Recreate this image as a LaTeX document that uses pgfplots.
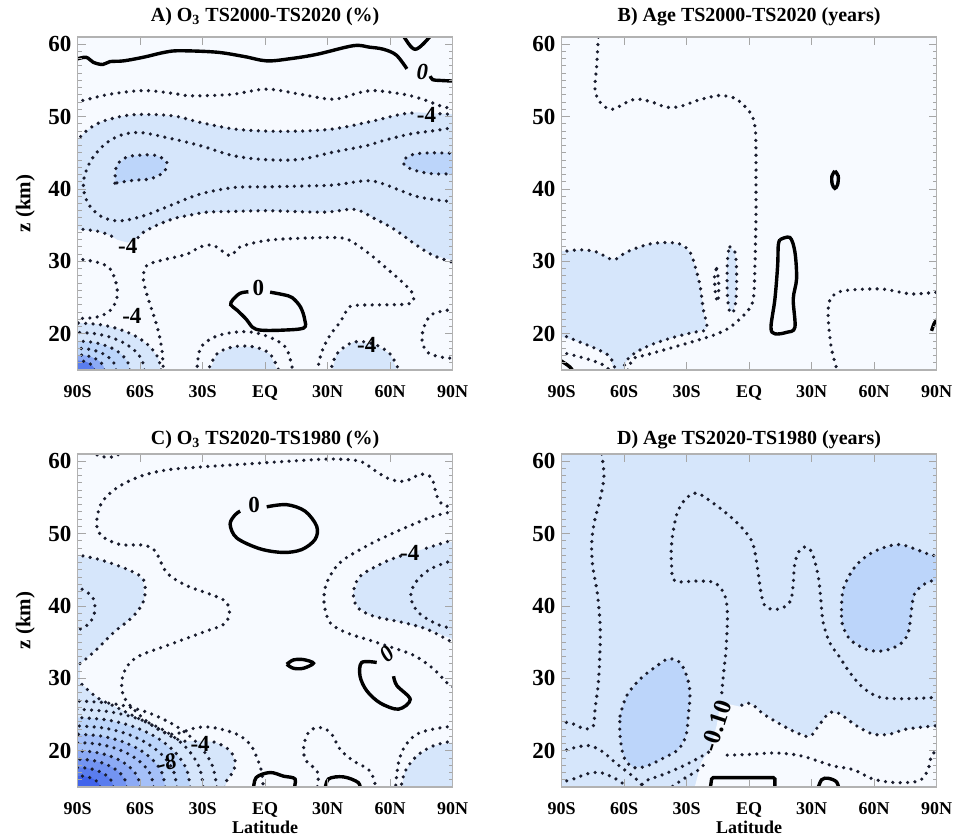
\documentclass[border=0pt]{standalone}
\usepackage{fontspec}
\setmainfont{Liberation Serif}
\usepackage{pgfplots}
\pgfplotsset{compat=1.18}
\definecolor{bgpale}{RGB}{247,250,255}
\definecolor{lblue}{RGB}{214,230,251}
\definecolor{mblue}{RGB}{188,213,250}
\definecolor{cc3}{RGB}{165,192,248}
\definecolor{cc4}{RGB}{140,170,245}
\definecolor{cc5}{RGB}{115,148,242}
\definecolor{cc6}{RGB}{90,125,238}
\definecolor{cc7}{RGB}{65,100,235}
\definecolor{dotc}{RGB}{25,28,45}
\tikzset{cl/.style={font=\fontsize{11.5}{12}\selectfont\bfseries, inner sep=0pt}}
\pgfplotsset{
  dl/.style={smooth, tension=0.55, line width=1.8pt, dash pattern=on 0pt off 3.7pt, line cap=round, draw=dotc, mark=none},
  sl/.style={smooth, tension=0.55, line width=1.7pt, draw=black, mark=none},
  fl/.style={draw=none, mark=none, fill=#1},
  panel/.style={
    scale only axis, width=187.4pt, height=166.5pt, anchor=south west,
    xmin=-90, xmax=90, ymin=15, ymax=61,
    xtick={-90,-60,-30,0,30,60,90}, xticklabels={90S,60S,30S,EQ,30N,60N,90N},
    ytick={20,30,40,50,60}, minor ytick={15,...,61},
    tick align=inside, major tick length=4pt, minor tick length=2pt,
    tick style={gray!70, line width=0.5pt},
    axis line style={draw=gray!60, line width=0.7pt},
    xticklabel style={font=\fontsize{9}{10}\selectfont\bfseries, anchor=base, inner sep=0pt, yshift=-14pt},
    yticklabel style={font=\fontsize{11.5}{12}\selectfont\bfseries, anchor=east, inner sep=0pt, xshift=-3pt},
    /pgf/number format/assume math mode=true,
    title style={font=\fontsize{10}{11}\selectfont\bfseries, at={(0.5,1)}, anchor=base, inner sep=0pt},
    ylabel style={font=\fontsize{10.5}{12}\selectfont\bfseries, at={(axis description cs:-0.14,0.5)}, anchor=center},
    xlabel style={font=\fontsize{9}{10}\selectfont\bfseries, at={(axis description cs:0.5,-0.12)}, anchor=center},
    axis on top,
  },
}
\begin{document}
\begin{tikzpicture}
\path[use as bounding box] (0,0) rectangle (477.5pt,417.5pt);

%%%%%%%%%%%%%%%%%%%% A
\begin{axis}[panel, at={(38.85pt,232.5pt)}, axis background/.style={fill=bgpale},
  title={A) O\textsubscript{3} TS2000-TS2020 (\%)}, title style={yshift=1.5pt}, ylabel={z (km)}]
\addplot[fl=lblue] coordinates {(-95,46.7)(-90,46.9)(-85.7,48.05)(-79.3,49.2)(-69.7,50.0)(-60.1,50.3)(-44,50.1)(-31.2,49.2)(-15.2,48.3)(0.8,48.0)(16.8,48.0)(32.8,48.3)(48.8,49.2)(64.9,50.3)(72.9,50.6)(84,50.4)(95,50.3)(95,29.8)(80.9,30.8)(72.9,32.2)(61.7,34.5)(52,36.0)(45.6,37.0)(40.8,37.2)(32.8,36.9)(24.8,36.8)(0.8,37.0)(-15.2,36.9)(-28,36.8)(-37.6,36.3)(-44,35.9)(-52,35.0)(-58.5,34.0)(-61,33.3)(-66,32.6)(-71,33.0)(-74.5,33.6)(-80.9,34.2)(-95,34.5)};
\addplot[fl=mblue] coordinates {(-72.1,40.8)(-71.3,43.2)(-66.5,44.4)(-58.5,44.7)(-52,44.6)(-47.2,43.7)(-48.8,42.3)(-55.3,41.4)(-63.3,41.2)};
\addplot[fl=mblue] coordinates {(66.5,44.0)(71.3,44.8)(80.9,45.0)(95,44.9)(95,42.1)(80.9,42.1)(72.9,42.5)(67.3,43.2)};
\addplot[fl=lblue] coordinates {(-28,14)(-23.2,17.2)(-15.2,18.2)(-5.6,18.2)(2.4,17.2)(7.2,14)};
\addplot[fl=lblue] coordinates {(31.2,14)(34.4,17.2)(42.4,18.85)(52,18.6)(60.1,17.2)(64.9,14)};
\addplot[fl=lblue] coordinates {(-50,14)(-50,15)(-51.4,16.68)(-55.4,18.25)(-61.7,19.60)(-70,20.63)(-79.6,21.28)(-90,21.5)(-95,21.5)(-95,14)};
\addplot[fl=mblue] coordinates {(-65,14)(-65,15)(-65.9,16.04)(-68.4,17)(-72.3,17.83)(-77.5,18.46)(-83.5,18.86)(-90,19)(-95,19)(-95,14)};
\addplot[fl=cc4] coordinates {(-77.2,14)(-77.2,15)(-77.6,15.54)(-78.9,16.05)(-80.9,16.48)(-83.6,16.82)(-86.7,17.03)(-90,17.1)(-95,17.1)(-95,14)};
\addplot[fl=cc6] coordinates {(-82,14)(-82,15)(-82.3,15.34)(-83.1,15.65)(-84.3,15.92)(-86,16.13)(-87.9,16.26)(-90,16.3)(-95,16.3)(-95,14)};
\addplot[sl] coordinates {(-91,57.9)(-86,58.2)(-82.5,57.5)(-78,57.2)(-74.5,57.6)(-68,57.7)(-58.5,58.2)(-48,58.9)(-40.8,59.1)(-23.2,58.9)(-10,58.3)(0.8,57.7)(12,58.0)(24.8,58.6)(42.4,59.8)(50,59.6)(56.9,59.3)(63,58.5)(68.1,56.6)};
\addplot[sl] coordinates {(79.3,55.6)(80.5,55.1)(84,55.0)(91,54.9)};
\addplot[sl] coordinates {(65,62)(66.5,61.1)(72.1,59.3)(79.3,61.1)(80.5,62)};
\addplot[sl] coordinates {(2.4,25.75)(8.8,25.4)(13,25.0)(17,23.7)(19,22)(18.5,20.8)(8,20.5)(-2,20.5)(-6,20.9)(-9,22.0)(-13.6,23.3)(-16.5,24.0)(-15.5,24.7)(-12,25.6)(-8,25.8)};
\addplot[dl] coordinates {(-91,52)(-85,52.4)(-74.5,53.1)(-58.5,53.6)(-44,53.2)(-37.6,52.9)(-28,52.9)(-15.2,53.1)(0.8,53.8)(16.8,53.1)(32.8,52.4)(45,53.3)(52,53.6)(61.7,53.3)(69.7,52.9)(77.7,52.2)(84,51.5)(91,51.0)};
\addplot[dl] coordinates {(-91,46.5)(-85.7,48.05)(-79.3,49.2)(-69.7,50.0)(-60.1,50.3)(-44,50.1)(-31.2,49.2)(-15.2,48.3)(0.8,48.0)(16.8,48.0)(32.8,48.3)(48.8,49.2)(64.9,50.3)(71,50.5)};
\addplot[dl] coordinates {(84,50.4)(91,50.3)};
\addplot[dl] coordinates {(91,48.5)(80.9,48.05)(69.7,47.6)(56.9,46.7)(48.8,46.0)(32.8,45.1)(16.8,44.1)(0.8,44.05)(-15.2,44.6)(-31.2,46.0)(-47.2,47.1)(-60.1,47.8)(-69.7,47.4)(-77.7,46.0)(-84.1,43.7)(-87.3,40.9)(-85.4,38.2)(-79.3,36.3)(-71.3,35.6)(-63.3,35.9)(-55.3,36.6)(-44,37.9)(-31.2,39.3)(-15.2,40.2)(0.8,40.3)(16.8,40.4)(32.8,40.55)(48.8,41.15)(56.9,40.7)(64.9,39.8)(74.5,38.85)(91,38.2)};
\addplot[dl] coordinates {(-72.1,40.8)(-71.3,43.2)(-66.5,44.4)(-58.5,44.7)(-52,44.6)(-47.2,43.7)(-48.8,42.3)(-55.3,41.4)(-63.3,41.2)(-72.1,40.8)};
\addplot[dl] coordinates {(92,44.9)(80.9,45.0)(71.3,44.8)(66.5,44.0)(67.3,43.2)(72.9,42.5)(80.9,42.1)(92,42.1)};
\addplot[dl] coordinates {(-91,34.5)(-80.9,34.2)(-74.5,33.6)(-71,33.0)};
\addplot[dl] coordinates {(-61,33.3)(-58.5,34.0)(-52,35.0)(-44,35.9)(-37.6,36.3)(-28,36.8)(-15.2,36.9)(0.8,37.0)(24.8,36.8)(32.8,36.9)(40.8,37.2)(45.6,37.0)(52,36.0)(61.7,34.5)(72.9,32.2)(80.9,30.8)(91,29.8)};
\addplot[dl] coordinates {(-48.8,14.5)(-49.6,17.9)(-52,21.15)(-56.1,24.8)(-58.5,27.6)(-56.9,29.4)(-50.4,30.1)(-37.6,31.0)(-31.2,32.0)(-24.8,32.2)(-16.8,30.8)(-12,32.0)(0.8,32.9)(16.8,33.2)(32.8,33.3)(39.2,33.1)(45.6,32.0)(52,30.6)(58.5,29.0)(64.9,27.4)(70.5,25.75)(71.3,24.6)(68.1,24.1)(56.9,24.0)(42.4,23.9)(39.2,23.2)(36,21.6)(31.2,19.8)(27.2,17.5)(24.8,14.5)};
\addplot[dl] coordinates {(-91,30.4)(-80.9,29.9)(-74.5,29.0)(-71.3,26.7)(-71.3,24.8)(-74.5,23.2)(-80.9,22.3)(-91,22.1)};
\addplot[dl] coordinates {(91,23.4)(80.9,22.8)(76.9,21.4)(75.3,19.3)(77.7,17.5)(84.1,16.8)(91,16.6)};
\addplot[dl] coordinates {(-32.8,14.5)(-31.2,17.9)(-24.8,19.5)(-15.2,20.2)(-5.6,20.2)(4,19.3)(10.4,17.9)(13.6,14.5)};
\addplot[dl] coordinates {(-28,14.5)(-23.2,17.2)(-15.2,18.2)(-5.6,18.2)(2.4,17.2)(7.2,14.5)};
\addplot[dl] coordinates {(31.2,14.5)(34.4,17.2)(42.4,18.85)(52,18.6)(60.1,17.2)(64.9,14.5)};
\addplot[dl] coordinates {(-50,15)(-51.4,16.68)(-55.4,18.25)(-61.7,19.60)(-70,20.63)(-79.6,21.28)(-91,21.5)};
\addplot[dl] coordinates {(-58,15)(-59.1,16.35)(-62.3,17.6)(-67.4,18.68)(-74,19.5)(-81.7,20.02)(-91,20.2)};
\addplot[dl] coordinates {(-65,15)(-65.9,16.04)(-68.4,17)(-72.3,17.83)(-77.5,18.46)(-83.5,18.86)(-91,19)};
\addplot[dl] coordinates {(-71.6,15)(-72.2,15.78)(-74.1,16.5)(-77,17.12)(-80.8,17.6)(-85.2,17.9)(-91,18)};
\addplot[dl] coordinates {(-77.2,15)(-77.6,15.54)(-78.9,16.05)(-80.9,16.48)(-83.6,16.82)(-86.7,17.03)(-91,17.1)};
\addplot[dl] coordinates {(-82,15)(-82.3,15.34)(-83.1,15.65)(-84.3,15.92)(-86,16.13)(-87.9,16.26)(-91,16.3)};
\node[cl, font=\fontsize{11.5}{12}\selectfont\bfseries\itshape] at (axis cs:75.5,56.2) {0};
\node[cl] at (axis cs:77.5,50.2) {-4};
\node[cl] at (axis cs:-66,32.1) {-4};
\node[cl] at (axis cs:-3.2,26.4) {0};
\node[cl] at (axis cs:-64,22.5) {-4};
\node[cl] at (axis cs:48.8,18.4) {-4};
\end{axis}

%%%%%%%%%%%%%%%%%%%% B
\begin{axis}[panel, at={(280.85pt,232.5pt)}, axis background/.style={fill=bgpale},
  title={B) Age TS2000-TS2020 (years)}, title style={yshift=1.5pt}]
\addplot[fl=lblue] coordinates {(-95,31.3)(-81.2,31.6)(-73.2,31.3)(-65.2,30.25)(-58.8,31.3)(-49.2,32.3)(-41.2,32.6)(-33.2,32.4)(-28.4,31.3)(-26,29.4)(-23.6,26.7)(-22,23.4)(-20.4,20.7)(-26.8,20.2)(-36.4,19.5)(-46,18.6)(-54,17.5)(-58.8,16.3)(-61.2,14)(-63.6,14)(-66.8,16.8)(-73.2,17.9)(-81.2,18.85)(-95,20)};
\addplot[fl=lblue] coordinates {(-9.2,32.0)(-6.8,31.3)(-6,28.5)(-6.3,24.8)(-7.6,23.0)(-9.5,23.2)(-10.5,25.75)(-10.5,29.4)(-10,31.3)};
\addplot[dl] coordinates {(-72.4,62)(-72.4,61.1)(-73.2,57.0)(-74,53.8)(-71.6,52.0)(-66,51.0)(-57.2,52.2)(-52.4,52.4)(-46,51.95)(-39.6,51.3)(-33.2,51.4)(-25.2,52.2)(-17.2,52.8)(-12.4,52.9)(-6,52.4)(0.4,50.6)(2.8,48.7)(3.3,45.5)(3.3,40.9)(3.3,36.3)(2.8,29.4)(2,24.8)(-1.2,23.0)(-9.2,20.9)(-17.2,19.8)(-33.2,18.4)(-49.2,17.1)(-55.6,16.55)(-58.8,14.5)};
\addplot[dl] coordinates {(-91,31.3)(-81.2,31.6)(-73.2,31.3)(-65.2,30.25)(-58.8,31.3)(-49.2,32.3)(-41.2,32.6)(-33.2,32.4)(-28.4,31.3)(-26,29.4)(-23.6,26.7)(-22,23.4)(-20.4,20.7)(-26.8,20.2)(-36.4,19.5)(-46,18.6)(-54,17.5)(-58.8,16.3)(-61.2,14.5)};
\addplot[dl] coordinates {(-91,20)(-81.2,18.85)(-73.2,17.9)(-66.8,16.8)(-63.6,14.5)};
\addplot[dl] coordinates {(-91,17.5)(-81.2,16.8)(-73.2,16.1)(-68.4,15.4)(-66.5,14.5)};
\addplot[sl] coordinates {(-90.5,16.3)(-86,15.4)(-84,14.5)};
\addplot[dl] coordinates {(-15.6,29.0)(-14.6,27.1)(-15,24.4)(-16.2,25.7)(-16.6,28.1)(-15.6,29.0)};
\addplot[dl] coordinates {(-9.2,32.0)(-6.8,31.3)(-6,28.5)(-6.3,24.8)(-7.6,23.0)(-9.5,23.2)(-10.5,25.75)(-10.5,29.4)(-10,31.3)(-9.2,32.0)};
\addplot[sl] coordinates {(14.8,33.0)(19.6,33.3)(22,31.3)(22.8,27.6)(21.2,24.8)(22,20.9)(18,20.2)(12.4,20.0)(10.5,20.9)(12.4,24.8)(13.7,29.4)(14,32.2)(14.8,33.0)};
\addplot[sl] coordinates {(41.2,42.5)(42.8,41.8)(42.5,40.6)(41.2,40.1)(39.9,40.7)(39.8,41.8)(41.2,42.5)};
\addplot[dl] coordinates {(42.8,14.5)(39.6,17.9)(38,22.1)(38.5,24.4)(41.2,25.5)(46.8,26.0)(62.8,26.2)(72.4,25.75)(78.8,25.5)(91,25.75)};
\addplot[sl] coordinates {(87.6,20.4)(89,21.5)(90.5,22)};
\end{axis}

%%%%%%%%%%%%%%%%%%%% C
\begin{axis}[panel, at={(38.85pt,24pt)}, axis background/.style={fill=bgpale},
  title={C) O\textsubscript{3} TS2020-TS1980 (\%)}, title style={yshift=-1.5pt}, ylabel={z (km)}, xlabel={Latitude}]
\addplot[fl=lblue] coordinates {(-95,47.1)(-79.3,46.4)(-66.5,45.1)(-58.5,43.7)(-58.1,40.9)(-63.3,38.6)(-72.9,36.3)(-80.9,34.0)(-88.1,32.2)(-95,31.8)};
\addplot[fl=lblue] coordinates {(-95,33)(-88.8,33)(-88.8,28)(-95,28)};
\addplot[fl=lblue] coordinates {(-95,29.6)(-88.9,29.4)(-80.9,27.4)(-71.3,26.0)(-61.7,24.6)(-52,23.2)(-44,21.8)(-38,21.3)(-31,21.4)(-24.5,21.2)(-21.6,20.9)(-16.8,20.0)(-14.4,18.6)(-15.2,17.2)(-18.4,15.9)(-20,14)(-95,14)};
\addplot[fl=mblue] coordinates {(-36,14)(-36,15)(-37.8,17.49)(-43.2,19.8)(-51.8,21.79)(-63,23.31)(-76,24.27)(-90,24.6)(-95,24.6)(-95,14)};
\addplot[fl=cc3] coordinates {(-48,14)(-48,15)(-49.4,16.89)(-53.6,18.65)(-60.3,20.16)(-69,21.32)(-79.1,22.05)(-90,22.3)(-95,22.3)(-95,14)};
\addplot[fl=cc4] coordinates {(-60.1,14)(-60.1,15)(-61.1,16.3)(-64.1,17.5)(-68.9,18.54)(-75,19.33)(-82.3,19.83)(-90,20)(-95,20)(-95,14)};
\addplot[fl=cc5] coordinates {(-66.5,14)(-66.5,15)(-67.3,16)(-69.6,16.93)(-73.4,17.72)(-78.2,18.33)(-83.9,18.72)(-90,18.85)(-95,18.85)(-95,14)};
\addplot[fl=cc6] coordinates {(-72.9,14)(-72.9,15)(-73.5,15.7)(-75.2,16.35)(-77.9,16.91)(-81.4,17.34)(-85.6,17.61)(-90,17.7)(-95,17.7)(-95,14)};
\addplot[fl=cc7] coordinates {(-79.3,14)(-79.3,15)(-79.7,15.4)(-80.7,15.78)(-82.4,16.1)(-84.6,16.34)(-87.2,16.5)(-90,16.55)(-95,16.55)(-95,14)};
\addplot[fl=lblue] coordinates {(95,49.2)(80.9,48.3)(69.7,47.3)(56.9,46.0)(45.6,44.1)(42.4,41.8)(44.4,39.8)(52,38.6)(64.9,37.8)(77.7,36.8)(95,34.9)};
\addplot[fl=lblue] coordinates {(95,21.4)(80.9,20.7)(72.9,19.3)(67.3,17.2)(64.9,14)(95,14)};
\addplot[dl] coordinates {(91,53.8)(85.7,53.9)(82.5,55.2)(80.9,57.0)(79.3,57.9)(74.5,58.2)(69.7,57.5)(64.9,57.2)(58.5,57.7)(52,58.85)(45.6,60.0)(32.8,60.3)(16.8,60.1)(0.8,59.8)(-15.2,59.5)(-31.2,59.2)(-47.2,58.8)(-60.1,57.9)(-71.3,56.3)(-78.5,54.25)(-80.9,51.5)(-78.5,49.7)(-69.7,48.5)(-58.5,48.4)(-52.8,47.6)(-47.2,44.6)(-37.6,42.8)(-28,41.8)(-19.2,40.7)(-17.1,39.1)(-19.7,37.5)(-29.6,36.4)(-45.6,34.7)(-61.7,32.9)(-68.1,30.6)(-67.7,27.4)(-56.9,24.1)(-45.6,22.3)(-32.8,23.2)(-24.8,23.2)(-13.6,22.3)(-7.2,20.9)(-4,19.1)(-1.6,17.0)(-0.8,14.5)};
\addplot[dl] coordinates {(-82,61.8)(-80.9,60.9)(-77.7,60.6)(-71.3,60.7)(-69,61.8)};
\addplot[dl] coordinates {(91,53.1)(80.9,52.4)(72.9,51.5)(61.7,50.1)(48.8,48.3)(36,46.0)(29.6,43.2)(28.3,40.5)(31.2,37.7)(39.2,36.3)(48.8,35.4)(58.5,34.5)(71.3,33.2)(80.9,31.3)(87.3,29.4)(91,28.7)};
\addplot[dl] coordinates {(91,49.2)(80.9,48.3)(74.5,47.7)};
\addplot[dl] coordinates {(65,46.9)(56.9,46.0)(45.6,44.1)(42.4,41.8)(44.4,39.8)(52,38.6)(64.9,37.8)(77.7,36.8)(91,34.8)};
\addplot[dl] coordinates {(91,46.4)(79.3,45.1)(72.1,43.2)(70,41.15)(73.7,39.1)(82.5,37.5)(91,36.8)};
\addplot[dl] coordinates {(-91,47.1)(-79.3,46.4)(-66.5,45.1)(-58.5,43.7)(-58.1,40.9)(-63.3,38.6)(-72.9,36.3)(-80.9,34.0)(-88.1,32.2)(-91,31.8)};
\addplot[dl] coordinates {(-91,42.8)(-83.3,41.4)(-81.7,39.5)(-84.1,37.7)(-88.9,36.8)(-91,36.7)};
\addplot[dl] coordinates {(-91,29.6)(-88.9,29.4)(-80.9,27.4)(-71.3,26.0)(-61.7,24.6)(-52,23.2)(-44,21.8)(-38,21.3)};
\addplot[dl] coordinates {(-24.5,21.2)(-21.6,20.9)(-16.8,20.0)(-14.4,18.6)(-15.2,17.2)(-18.4,15.9)(-20,14.5)};
\addplot[dl] coordinates {(-23.2,15)(-25.5,18.08)(-32.2,20.95)(-42.8,23.41)(-56.6,25.31)(-72.7,26.50)(-91,26.9)};
\addplot[dl] coordinates {(-29.6,15)(-31.7,17.78)(-37.7,20.38)(-47.3,22.60)(-59.8,24.31)(-74.4,25.38)(-91,25.75)};
\addplot[dl] coordinates {(-36,15)(-37.8,17.49)(-43.2,19.8)(-51.8,21.79)(-63,23.31)(-76,24.27)(-91,24.6)};
\addplot[dl] coordinates {(-42.4,15)(-44,17.19)(-48.8,19.23)(-56.3,20.97)(-66.2,22.32)(-77.7,23.16)(-91,23.45)};
\addplot[dl] coordinates {(-48,15)(-49.4,16.89)(-53.6,18.65)(-60.3,20.16)(-69,21.32)(-79.1,22.05)(-91,22.3)};
\addplot[dl] coordinates {(-53.6,15)(-54.8,16.59)(-58.5,18.08)(-64.3,19.35)(-71.8,20.33)(-80.6,20.94)(-91,21.15)};
\addplot[dl] coordinates {(-60.1,15)(-61.1,16.3)(-64.1,17.5)(-68.9,18.54)(-75,19.33)(-82.3,19.83)(-91,20)};
\addplot[dl] coordinates {(-66.5,15)(-67.3,16)(-69.6,16.93)(-73.4,17.72)(-78.2,18.33)(-83.9,18.72)(-91,18.85)};
\addplot[dl] coordinates {(-72.9,15)(-73.5,15.7)(-75.2,16.35)(-77.9,16.91)(-81.4,17.34)(-85.6,17.61)(-91,17.7)};
\addplot[dl] coordinates {(-79.3,15)(-79.7,15.4)(-80.7,15.78)(-82.4,16.1)(-84.6,16.34)(-87.2,16.5)(-91,16.55)};
\addplot[dl] coordinates {(53.6,14.5)(50.4,17.2)(42.4,18.6)(36,20.2)(32,22.3)(27.2,23.2)(21.6,22.8)(18.7,20.9)(19.2,18.85)(24,17.5)(25.6,16.55)(24.8,14.5)};
\addplot[dl] coordinates {(91,23.45)(80.9,23.0)(72.9,22.3)(67.3,20.7)(64.1,18.4)(62.5,14.5)};
\addplot[dl] coordinates {(91,21.4)(80.9,20.7)(72.9,19.3)(67.3,17.2)(64.9,14.5)};
\addplot[sl] coordinates {(0.8,53.7)(10.4,54.0)(19.2,53.1)(24.8,51.0)(24,49.2)(17.6,47.8)(8.8,47.4)(-2.4,47.9)(-13.6,49.4)(-16.8,51.3)(-14.4,52.6)(-12,53.1)};
\addplot[sl] coordinates {(10.4,31.95)(13.6,32.55)(18.4,32.6)(23.2,32.1)(18.4,31.4)(13.6,31.4)(10.4,31.95)};
\addplot[sl] coordinates {(53.6,32.2)(46.4,32.2)(45.6,30.3)(48.8,28.3)(55.3,26.6)(64.1,25.75)(69.7,27.1)(63.3,29.0)(61.7,30.3)};
\addplot[sl] coordinates {(-5.6,14.5)(-4.3,16.3)(2.4,17.0)(8.8,16.5)(14.4,16.1)(13.6,14.5)};
\addplot[sl] coordinates {(28.8,14.5)(30.4,16.1)(37.6,16.4)(44.8,15.6)(45.6,14.5)};
\node[cl] at (axis cs:-5.3,54.0) {0};
\node[cl] at (axis cs:69.5,47.4) {-4};
\node[cl, font=\fontsize{11.5}{12}\selectfont\bfseries\itshape, rotate=40] at (axis cs:58.5,33.3) {0};
\node[cl] at (axis cs:-31.2,21.0) {-4};
\node[cl, font=\fontsize{11.5}{12}\selectfont\bfseries\itshape, rotate=15] at (axis cs:-47.2,18.3) {-8};
\end{axis}

%%%%%%%%%%%%%%%%%%%% D
\begin{axis}[panel, at={(280.85pt,24pt)}, axis background/.style={fill=lblue},
  title={D) Age TS2020-TS1980 (years)}, title style={yshift=-1.5pt}, xlabel={Latitude}]
\addplot[fl=bgpale] coordinates {(-13.7,26.7)(-4.5,26.1)(-1.2,26.6)(2,26.3)(6.8,25.1)(14.8,23.7)(22.8,22.5)(29.2,22.0)(34,23.7)(38.8,25.3)(43.6,25.1)(51.6,23.45)(59.6,22.3)(67.6,22.3)(75.6,23.0)(95,23.5)(95,14)(-27,14)(-23,18.4)(-18.8,20.2)(-15.6,23.45)};
\addplot[fl=mblue] coordinates {(-62,24.8)(-58.8,27.6)(-52.4,29.9)(-44.4,31.7)(-38.8,32.7)(-33.2,32.2)(-29.7,30.1)(-28.4,27.8)(-29.2,24.8)(-30.3,22.1)(-34,20.2)(-40.4,19.1)(-49.2,17.9)(-55.6,17.7)(-60.1,19.1)(-62,22.1)};
\addplot[fl=mblue] coordinates {(44.4,39.5)(45.2,42.3)(50,45.1)(56.4,46.9)(64.4,48.05)(72.4,48.5)(80.4,47.8)(86.8,47.1)(95,46.9)(95,43.7)(85.2,43.2)(79.6,41.8)(78,39.5)(76.4,36.3)(72.4,34.7)(64.4,33.8)(56.4,34.0)(48.4,35.4)(44.8,37.5)};
\addplot[dl] coordinates {(-70.8,62)(-70.8,61.1)(-69.7,57.9)(-71.6,54.7)(-74.4,51.5)(-75.6,48.7)(-75.1,45.5)(-72.9,41.8)(-71.6,37.7)(-71.6,34.0)(-72.4,29.4)(-74,25.75)(-74.8,23.45)(-78.8,23.0)(-84.4,23.7)(-91,24.1)};
\addplot[dl] coordinates {(-62,24.8)(-58.8,27.6)(-52.4,29.9)(-44.4,31.7)(-38.8,32.7)(-33.2,32.2)(-29.7,30.1)(-28.4,27.8)(-29.2,24.8)(-30.3,22.1)(-34,20.2)(-40.4,19.1)(-49.2,17.9)(-55.6,17.7)(-60.1,19.1)(-62,22.1)(-62,24.8)};
\addplot[dl] coordinates {(91,27.4)(75.6,27.2)(62.8,27.4)(54.8,28.7)(48.4,30.8)(43.6,32.9)(38.8,34.9)(35.6,37.7)(34.3,41.4)(33.2,44.1)(30.8,46.9)(28.4,48.05)(24.8,47.9)(22,46.0)(21.2,43.2)(19.9,40.7)(14.8,39.6)(8.4,39.8)(6,41.4)(3.9,45.5)(1.7,48.7)(-2.8,50.6)(-9.2,52.4)(-17.2,54.2)(-25.2,55.6)(-30.8,54.7)(-34.8,52.6)(-37.2,48.7)(-37.2,45.5)(-35.6,43.45)(-25.2,43.45)(-16.4,43.2)(-11.6,41.4)(-10.4,38.6)(-11.1,34.0)(-12.4,30.3)(-13.2,27.8)};
\addplot[dl] coordinates {(-19.5,19.8)(-25.2,18.85)(-33.2,17.7)(-42.8,16.55)(-49.2,15.9)(-54,14.5)};
\addplot[dl] coordinates {(-3.5,26.3)(-1.2,26.6)(2,26.3)(6.8,25.1)(14.8,23.7)(22.8,22.5)(29.2,22.0)(34,23.7)(38.8,25.3)(43.6,25.1)(51.6,23.45)(59.6,22.3)(67.6,22.3)(75.6,23.0)(91,23.5)};
\addplot[dl] coordinates {(-10.5,19.4)(0.4,19.5)(11.6,19.7)(21.2,19.5)(27.6,19.1)(34,18.5)(40.4,17.9)(50,17.4)(59.6,16.1)(70.8,15.6)(82,15.9)(86,17.5)(87.6,19.3)(91,20.3)};
\addplot[dl] coordinates {(44.4,39.5)(45.2,42.3)(50,45.1)(56.4,46.9)(64.4,48.05)(72.4,48.5)(80.4,47.8)(86.8,47.1)(91,46.9)};
\addplot[dl] coordinates {(91,43.7)(85.2,43.2)(79.6,41.8)(78,39.5)(76.4,36.3)(72.4,34.7)(64.4,33.8)(56.4,34.0)(48.4,35.4)(44.8,37.5)(44.4,39.5)};
\addplot[dl] coordinates {(-91,19.8)(-82.8,20.5)(-76.4,20.7)(-70,19.8)(-63.6,18.2)(-57.2,16.8)(-52.4,15.6)(-50,14.5)};
\addplot[dl] coordinates {(-91,15.6)(-84.4,16.1)(-78,16.8)(-71.6,17.0)(-65.2,16.3)(-60.4,15.4)(-59,14.5)};
\addplot[dl] coordinates {(-39.6,14.5)(-31.6,16.1)(-23.6,17.5)(-21,18.5)};
\addplot[sl, sharp plot] coordinates {(-18.8,14.5)(-18,16.1)(-17.2,16.3)(11.6,16.3)(12.4,16.1)(12.4,14.5)};
\addplot[sl] coordinates {(32.7,14.5)(34.8,16.0)(38,16.2)(42,15.7)(43.3,14.5)};
\node[font=\fontsize{12.5}{13}\selectfont\bfseries, inner sep=0pt, rotate=72] at (axis cs:-15.6,23.4) {-0.10};
\end{axis}
\end{tikzpicture}
\end{document}
